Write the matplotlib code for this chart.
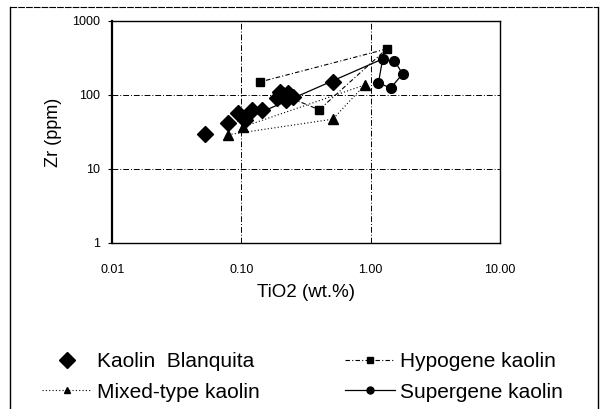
import numpy as np
import matplotlib.pyplot as plt
from matplotlib.lines import Line2D

plt.rcParams['font.family'] = ['Liberation Sans', 'DejaVu Sans']

# Kaolin Blanquita
blanq_ti = [0.052, 0.079, 0.094, 0.106, 0.12, 0.144, 0.19, 0.21, 0.23, 0.22, 0.25, 0.20, 0.51]
blanq_zr = [30, 42, 57, 46, 63, 63, 90, 100, 105, 85, 95, 108, 150]

# Hypogene kaolin
hypo_ti = [0.21, 0.40, 1.33, 0.14]
hypo_zr = [100, 63, 417, 150]

# Mixed-type kaolin
mixed_ti = [0.079, 0.51, 0.90, 0.103]
mixed_zr = [29, 47, 136, 37]

# Supergene kaolin
super_ti = [0.11, 1.24, 1.15, 1.43, 1.77, 1.53]
super_zr = [48, 306, 145, 124, 192, 288]

hypo_ls = (0, (4, 2, 1, 2))
mixed_ls = (0, (1, 2))

fig = plt.figure(figsize=(6, 4.09), dpi=100)
ax = fig.add_axes([0.187, 0.406, 0.646, 0.543])

ax.plot(hypo_ti, hypo_zr, color='black', lw=0.8, ls=hypo_ls, marker='s', ms=6)
ax.plot(mixed_ti, mixed_zr, color='black', lw=0.8, ls=mixed_ls, marker='^', ms=7)
ax.plot(super_ti, super_zr, color='black', lw=0.9, ls='-', marker='o', ms=7)
ax.plot(blanq_ti, blanq_zr, color='black', ls='none', marker='D', ms=8)

ax.set_xscale('log')
ax.set_yscale('log')
ax.set_xlim(0.01, 10)
ax.set_ylim(1, 1000)
ax.set_xticks([0.01, 0.1, 1, 10])
ax.set_xticklabels(['0.01', '0.10', '1.00', '10.00'])
ax.set_yticks([1, 10, 100, 1000])
ax.set_yticklabels(['1', '10', '100', '1000'])
ax.minorticks_off()
ax.tick_params(axis='x', labelsize=9, length=0, pad=15)
ax.tick_params(axis='y', labelsize=9, length=3, direction='out', pad=6)
ax.grid(True, color='black', lw=0.7, ls=(0, (6, 2, 1, 2)))
for s in ax.spines.values():
    s.set_linewidth(1.0)
ax.spines['left'].set_linewidth(1.6)

ax.set_xlabel('TiO2 (wt.%)', fontsize=13.5, labelpad=6)
ax.set_ylabel('Zr (ppm)', fontsize=13, labelpad=7)

# legend handles (column-wise order for ncol=2)
handles = [
    Line2D([], [], color='black', ls='none', marker='D', ms=8),
    Line2D([], [], color='black', lw=0.8, ls=mixed_ls, marker='^', ms=5),
    Line2D([], [], color='black', lw=0.8, ls=hypo_ls, marker='s', ms=5),
    Line2D([], [], color='black', lw=0.9, ls='-', marker='o', ms=5),
]
labels = ['Kaolin  Blanquita', 'Mixed-type kaolin', 'Hypogene kaolin', 'Supergene kaolin']
fig.legend(handles, labels, ncol=2, loc='lower left', bbox_to_anchor=(0.038, -0.028),
           frameon=False, fontsize=15, handlelength=2.4, columnspacing=4.1,
           labelspacing=0.55, handletextpad=0.25)

# outer frame
fig.add_artist(Line2D([0.017, 0.017], [0.0, 0.983], color='black', lw=1.0))
fig.add_artist(Line2D([0.017, 0.997], [0.983, 0.983], color='black', lw=0.8, ls=(0, (6, 1))))
fig.add_artist(Line2D([0.997, 0.997], [0.0, 0.983], color='black', lw=1.0))

fig.savefig('out.png', dpi=100)
